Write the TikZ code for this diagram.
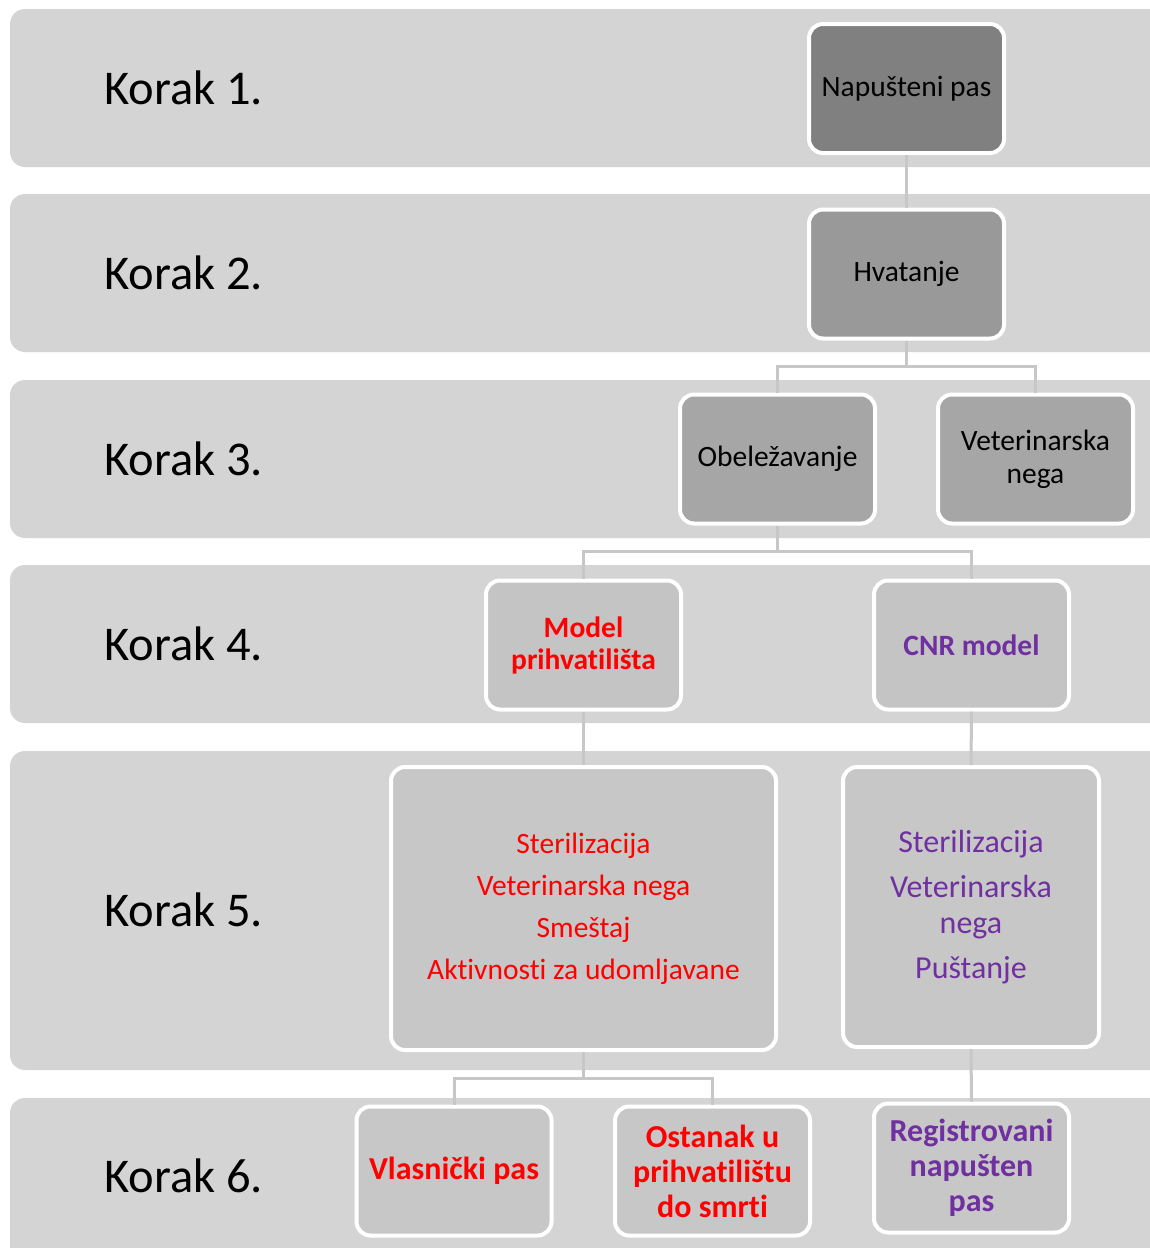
\documentclass[tikz,border=0pt]{standalone}
\usepackage{fontspec}
\setmainfont[Ligatures=NoCommon]{Carlito}
\usetikzlibrary{positioning}
\definecolor{bandgray}{HTML}{D4D4D4}
\definecolor{redtxt}{HTML}{FF0000}
\definecolor{purpletxt}{HTML}{7030A0}
\tikzset{
	band/.style={fill=bandgray,rounded corners=15pt},
	korak/.style={anchor=west,inner sep=0pt,font=\fontsize{48.5}{52}\selectfont},
	stepbox/.style={draw=white,line width=4pt,rounded corners=14pt,align=center,
		minimum width=195pt,minimum height=129pt,inner sep=2pt,
		font=\fontsize{29.5}{33}\selectfont},
	conn/.style={draw=black!22,line width=3pt}
}
\begin{document}
\begin{tikzpicture}[x=1pt,y=-1pt]
	\useasboundingbox (0,0) rectangle (1149,1248);
	\fill[white] (0,0) rectangle (1149,1248);
	
	% bands
	\foreach \ya/\yb in {9/167,194/352,380/538,565/723,751/1070,1098/1275}
	\path[band] (10,\ya) rectangle (1180,\yb);
	
	\node[korak] (k1) at (104,88) {Korak 1.};
	\node[korak] (k2) at (104,273) {Korak 2.};
	\node[korak] (k3) at (104,459) {Korak 3.};
	\node[korak] (k4) at (104,644) {Korak 4.};
	\node[korak] (k5) at (104,910) {Korak 5.};
	\node[korak] (k6) at (104,1176) {Korak 6.};
	
	\node[stepbox,fill=black!50] (np) at (906.5,88.5) {Napušteni pas};
	\node[stepbox,fill=black!40] (hv) at (906.5,274) {Hvatanje};
	\node[stepbox,fill=black!35] (ob) at (777.5,459) {Obeležavanje};
	\node[stepbox,fill=black!35] (vn) at (1035.5,459) {Veterinarska\\nega};
	
	\node[stepbox,fill=black!23,text=redtxt,font=\bfseries\fontsize{29.5}{32}\selectfont]
		(mp) at (583.5,645) {Model\\prihvatilišta};
	\node[stepbox,fill=black!23,text=purpletxt,font=\bfseries\fontsize{29.5}{32}\selectfont]
		(cnr) at (971.5,645) {CNR model};
	
	\node[stepbox,fill=black!22,text=redtxt,minimum width=385pt,minimum height=283pt,
		font=\fontsize{29.5}{42}\selectfont] (s5l) at (583.5,908.5)
		{Sterilizacija\\Veterinarska nega\\Smeštaj\\Aktivnosti za udomljavane};
	\node[stepbox,fill=black!22,text=purpletxt,minimum width=256pt,minimum height=280pt,
		font=\fontsize{32}{36}\selectfont] (s5r) at (971,907)
		{Sterilizacija\\[9pt]Veterinarska\\nega\\[9pt]Puštanje};
	
	\node[stepbox,fill=black!22,text=redtxt,font=\bfseries\fontsize{32}{35}\selectfont]
		(vp) at (454,1171) {Vlasnički pas};
	\node[stepbox,fill=black!22,text=redtxt,font=\bfseries\fontsize{32}{35}\selectfont]
		(op) at (712.5,1171) {Ostanak u\\prihvatilištu\\do smrti};
	\node[stepbox,fill=black!22,text=purpletxt,font=\bfseries\fontsize{32}{35}\selectfont]
		(rp) at (971.5,1168) {Registrovani\\napušten\\pas};
	
	% connectors
	\path[conn] (np.south) -- (hv.north);
	\path[conn] (hv.south) -- ++(0,26) -| (ob.north);
	\path[conn] (hv.south) -- ++(0,26) -| (vn.north);
	\path[conn] (ob.south) -- ++(0,26) -| (mp.north);
	\path[conn] (ob.south) -- ++(0,26) -| (cnr.north);
	\path[conn] (mp.south) -- (s5l.north);
	\path[conn] (cnr.south) -- (s5r.north);
	\path[conn] (s5l.south) -- ++(0,26) -| (vp.north);
	\path[conn] (s5l.south) -- ++(0,26) -| (op.north);
	\path[conn] (s5r.south) -- (rp.north);
\end{tikzpicture}
\end{document}
